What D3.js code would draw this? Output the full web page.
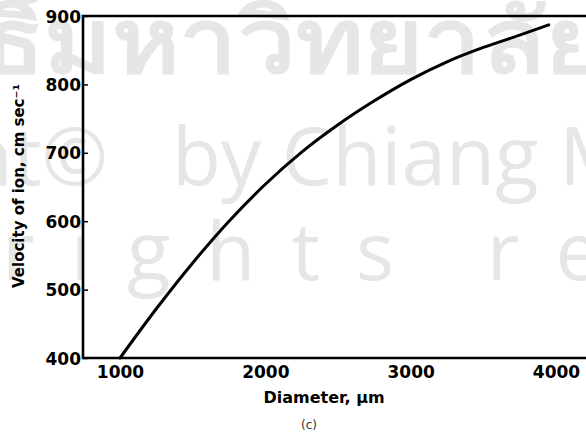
<!DOCTYPE html>
<html>
<head>
<meta charset="utf-8">
<script src="https://cdn.jsdelivr.net/npm/d3@7"></script>
<style>
  body { margin: 0; background: #fff; }
  svg { display: block; }
  .tick text { font-family: "DejaVu Sans", sans-serif; font-weight: bold; fill: #000; }
</style>
</head>
<body>
<svg id="chart" width="586" height="432"></svg>
<script>
// values
const diameter = [1000, 1250, 1500, 1750, 2000, 2250, 2500, 2750, 3000, 3250, 3500, 3750, 3950];
const velocity = [400, 472, 539, 600, 654, 701, 741, 776, 807, 833, 854, 872, 887];
const xTicks = [1000, 2000, 3000, 4000];
const yTicks = [400, 500, 600, 700, 800, 900];

const svg = d3.select("#chart");
const frame = { left: 83, top: 16, right: 586, bottom: 358 };

const x = d3.scaleLinear().domain([1000, 4000]).range([120, 556]);
const y = d3.scaleLinear().domain([400, 900]).range([frame.bottom, frame.top]);

// watermark in the background
const wm = svg.append("g")
    .attr("fill", "#e6e6e6")
    .attr("font-family", "Tahoma, 'Open Sans', 'DejaVu Sans', sans-serif");
const thai = wm.append("g").attr("transform", "translate(44,72) scale(1.17,1)");
thai.append("text").attr("text-anchor", "end")
    .attr("font-size", 88).attr("font-weight", "bold").text("ลิขสิทธิ์");
thai.append("text")
    .attr("font-size", 88).attr("font-weight", "bold").text("มหาวิทยาลัยเชียงใหม่");
wm.append("text").attr("x", 108).attr("y", 185).attr("text-anchor", "end")
    .attr("font-size", 80).text("Copyright©");
wm.append("text").attr("x", 172).attr("y", 185)
    .attr("font-size", 80).text("by Chiang Mai University");
wm.append("text").attr("x", 2).attr("y", 280)
    .attr("font-size", 80).attr("letter-spacing", 36).text("rights reserved");

// frame
svg.append("path")
    .attr("d", `M${frame.right},${frame.top}H${frame.left}V${frame.bottom}H${frame.right}`)
    .attr("fill", "none")
    .attr("stroke", "#000")
    .attr("stroke-width", 2.6);

// axes
const yAxis = svg.append("g")
    .attr("transform", `translate(${frame.left},0)`)
    .call(d3.axisLeft(y).tickValues(yTicks).tickSizeInner(-5).tickSizeOuter(0).tickPadding(4));
yAxis.select(".domain").remove();
yAxis.selectAll(".tick line").attr("stroke", "#000").attr("stroke-width", 1.5);
yAxis.selectAll(".tick text").attr("font-size", 17).attr("x", -2).attr("dy", "0.36em");

const xAxis = svg.append("g")
    .attr("transform", `translate(0,${frame.bottom})`)
    .call(d3.axisBottom(x).tickValues(xTicks).tickFormat(d3.format("d")).tickSize(0).tickPadding(8));
xAxis.select(".domain").remove();
xAxis.selectAll(".tick text").attr("font-size", 17).attr("dy", "0.71em");

// axis titles
svg.append("text")
    .attr("transform", "translate(24,186) rotate(-90)")
    .attr("text-anchor", "middle")
    .attr("font-family", "DejaVu Sans, sans-serif")
    .attr("font-weight", "bold")
    .attr("font-size", 15)
    .text("Velocity of ion, cm sec⁻¹");

svg.append("text")
    .attr("x", 324).attr("y", 403)
    .attr("text-anchor", "middle")
    .attr("font-family", "DejaVu Sans, sans-serif")
    .attr("font-weight", "bold")
    .attr("font-size", 16)
    .text("Diameter, μm");

svg.append("text")
    .attr("x", 309).attr("y", 429)
    .attr("text-anchor", "middle")
    .attr("font-family", "DejaVu Sans, sans-serif")
    .attr("font-size", 12)
    .attr("fill", "#333")
    .text("(c)");

// curve
const line = d3.line()
    .x((d, i) => x(diameter[i]))
    .y(d => y(d))
    .curve(d3.curveMonotoneX);

svg.append("path")
    .datum(velocity)
    .attr("d", line)
    .attr("fill", "none")
    .attr("stroke", "#000")
    .attr("stroke-width", 3)
    .attr("stroke-linecap", "round");
</script>
</body>
</html>
